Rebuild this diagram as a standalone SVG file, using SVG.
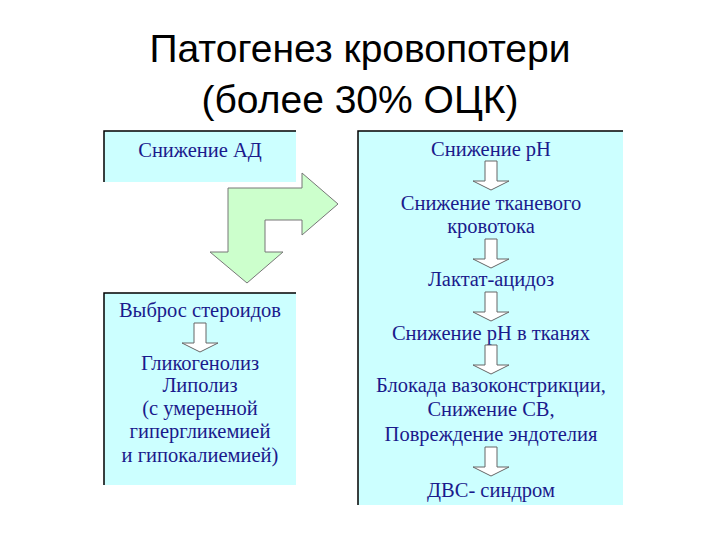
<svg xmlns="http://www.w3.org/2000/svg" width="720" height="540" viewBox="0 0 720 540">
<style>
.t{font-family:"Liberation Sans",Arial,sans-serif;font-size:39px;fill:#000;text-anchor:middle}
.l{font-family:"Liberation Serif","Times New Roman",serif;font-size:20.5px;fill:#1a1a8c;text-anchor:middle}
.box{fill:#ccffff}
.edge{stroke:#000;stroke-width:1.5;fill:none}
.sa{fill:#fff;stroke:#666;stroke-width:1}
</style>
<defs>
<path id="sa" class="sa" d="M-6,0 H6 V20 H18 L0,29 L-18,20 H-6 Z"/>
</defs>
<rect width="720" height="540" fill="#fff"/>
<text class="t" x="360" y="62">Патогенез кровопотери</text>
<text class="t" x="360" y="113">(более 30% ОЦК)</text>
<g id="n-ad">
<rect class="box" x="104" y="131" width="192" height="51"/>
<path class="edge" d="M104,182 V131 H296"/>
<text class="l" x="200" y="157">Снижение АД</text>
</g>
<g id="n-steroid">
<rect class="box" x="104" y="293" width="192" height="192"/>
<path class="edge" d="M104,485 V293 H296"/>
<text class="l" x="200" y="317">Выброс стероидов</text>
<text class="l" x="200" y="370">Гликогенолиз</text>
<text class="l" x="200" y="392">Липолиз</text>
<text class="l" x="200" y="415">(с умеренной</text>
<text class="l" x="200" y="438">гипергликемией</text>
<text class="l" x="200" y="462">и гипокалиемией)</text>
</g>
<g id="n-right">
<rect class="box" x="358" y="131" width="265" height="374"/>
<path class="edge" d="M358,505 V131 H623"/>
<text class="l" x="491" y="156">Снижение pH</text>
<text class="l" x="491" y="210">Снижение тканевого</text>
<text class="l" x="491" y="233">кровотока</text>
<text class="l" x="491" y="286">Лактат-ацидоз</text>
<text class="l" x="491" y="340">Снижение pH в тканях</text>
<text class="l" x="491" y="392">Блокада вазоконстрикции,</text>
<text class="l" x="491" y="416">Снижение СВ,</text>
<text class="l" x="491" y="441">Повреждение эндотелия</text>
<text class="l" x="491" y="497">ДВС- синдром</text>
</g>
<g id="connectors">
<path d="M228,188 L302,188 L302,173 L338,204 L302,235 L302,220 L265,220 L265,252 L283,252 L247,283 L210,252 L228,252 Z" fill="#ccffcc" stroke="#777" stroke-width="1"/>
<use href="#sa" x="200" y="323"/>
<use href="#sa" x="491" y="161"/>
<use href="#sa" x="491" y="239"/>
<use href="#sa" x="491" y="292"/>
<use href="#sa" x="491" y="345"/>
<use href="#sa" x="491" y="447"/>
</g>
</svg>
